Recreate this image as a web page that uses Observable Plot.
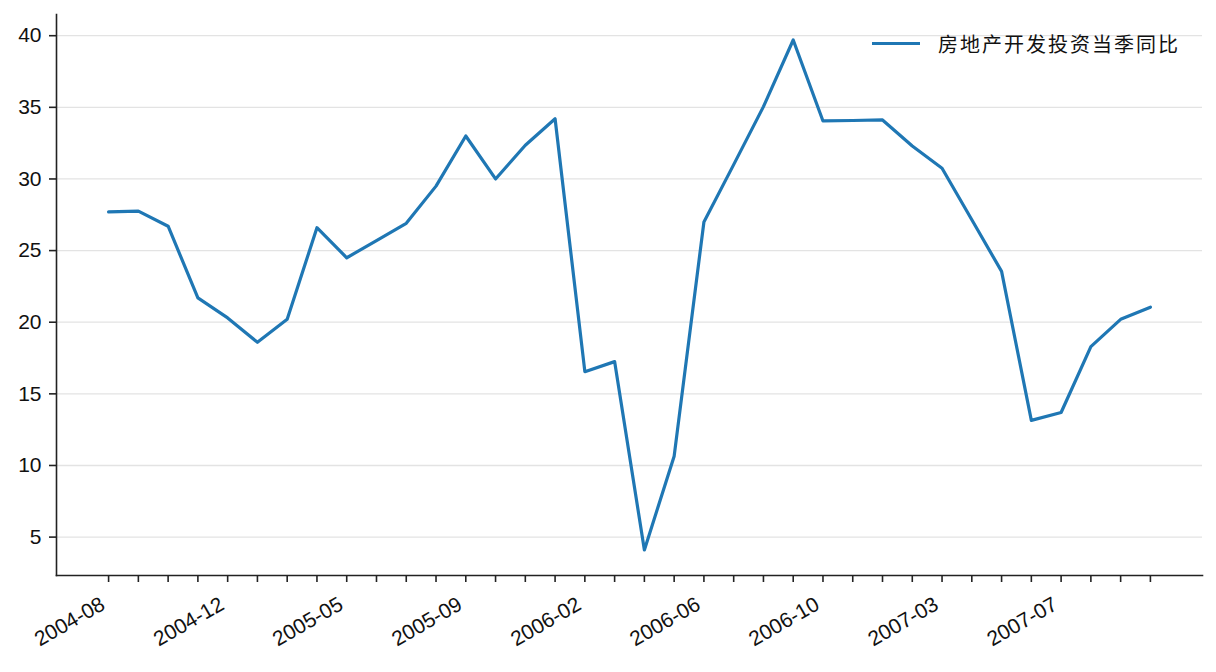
<!DOCTYPE html>
<html><head><meta charset="utf-8">
<script src="https://cdn.jsdelivr.net/npm/d3@7"></script>
<script src="https://cdn.jsdelivr.net/npm/@observablehq/plot@0.6"></script>
<style>
body{margin:0;background:#fff;}
#wrap{position:relative;width:1216px;height:672px;font-family:"Liberation Sans","Noto Sans CJK SC",sans-serif;}
#legend{position:absolute;left:872px;top:29px;display:flex;align-items:center;font-size:20px;color:#111;font-family:"Noto Sans CJK SC",sans-serif;}
#legend .sw{display:inline-block;width:48px;height:3px;background:#1f77b4;margin-right:18px;}
#legend .lb{letter-spacing:2px;}
</style></head><body><div id="wrap"></div>
<script>
const dates = ["2004-08","2004-09","2004-10","2004-11","2004-12","2005-02","2005-03","2005-04","2005-05","2005-06","2005-07","2005-08","2005-09","2005-10","2005-11","2005-12","2006-02","2006-03","2006-04","2006-05","2006-06","2006-07","2006-08","2006-09","2006-10","2006-11","2006-12","2007-02","2007-03","2007-04","2007-05","2007-06","2007-07","2007-08","2007-09","2007-10"];
const values = [27.7,27.75,26.7,21.7,20.3,18.6,20.2,26.6,24.5,25.7,26.9,29.5,33.0,30.0,32.35,34.2,16.55,17.25,4.1,10.65,27.0,31.0,35.05,39.7,34.05,34.08,34.12,32.3,30.75,27.15,23.55,13.15,13.7,18.3,20.2,21.05];
const seriesName = "房地产开发投资当季同比";
const yTicks = [5,10,15,20,25,30,35,40];
const labelEvery = 4;

const n = values.length;
const xm = 0.05 * (n - 1);
const [ymin, ymax] = d3.extent(values);
const ym = 0.05 * (ymax - ymin);
const font = '"Liberation Sans","Noto Sans CJK SC",sans-serif';

const chart = Plot.plot({
  width: 1216,
  height: 672,
  marginLeft: 56,
  marginRight: 14,
  marginTop: 14,
  marginBottom: 97,
  style: {fontFamily: font, fontSize: "21px", background: "#fff", color: "#111"},
  x: {type: "linear", domain: [-xm, n - 1 + xm]},
  y: {domain: [ymin - ym, ymax + ym]},
  marks: [
    Plot.gridY(yTicks, {stroke: "#e3e3e3", strokeOpacity: 1, strokeWidth: 1.3}),
    Plot.lineY(values, {stroke: "#1f77b4", strokeWidth: 3.2}),
    Plot.axisY(yTicks, {tickSize: 7, tickPadding: 8, fontSize: 21, stroke: "#222", strokeWidth: 1.6, label: null}),
    Plot.axisX(d3.range(n), {tickSize: 7, stroke: "#222", strokeWidth: 1.6, label: null, tickFormat: () => ""}),
    Plot.axisX(d3.range(n), {tickSize: 0, tickPadding: 27, tickRotate: -30, dx: -5.5, fontSize: 21, label: null,
      tickFormat: i => i % labelEvery === 0 ? dates[i] : ""}),
    Plot.frame({anchor: "left", stroke: "#222", strokeWidth: 1.6}),
    Plot.frame({anchor: "bottom", stroke: "#222", strokeWidth: 1.6})
  ]
});
const wrap = document.getElementById("wrap");
wrap.appendChild(chart);
const lg = document.createElement("div");
lg.id = "legend";
lg.innerHTML = `<span class="sw"></span><span class="lb"></span>`;
lg.querySelector(".lb").textContent = seriesName;
wrap.appendChild(lg);
</script>
</body></html>
